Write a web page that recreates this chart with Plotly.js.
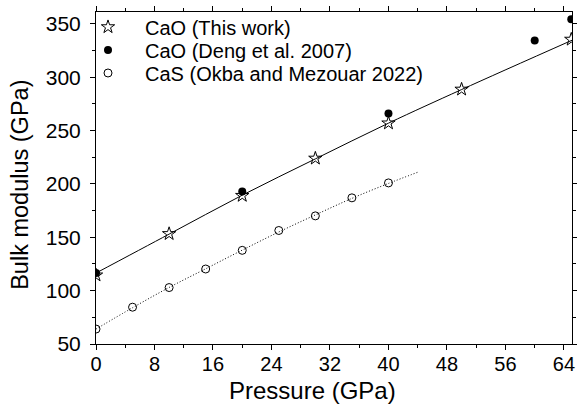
<!DOCTYPE html>
<html>
<head>
<meta charset="utf-8">
<script src="https://cdn.plot.ly/plotly-3.0.1.min.js"></script>
<style>html,body{margin:0;padding:0;background:#fff;}#chart{width:577px;height:405px;}</style>
</head>
<body>
<div id="chart"></div>
<script>
// CaO (This work)
var caoThisX = [0, 10, 20, 30, 40, 50, 65];
var caoThisY = [114.5, 153.3, 189.1, 224, 257, 288.7, 335.5];
// CaO (Deng et al. 2007)
var caoDengX = [0, 20, 40, 60, 65];
var caoDengY = [116.6, 192.9, 266, 334.5, 354.5];
// CaS (Okba and Mezouar 2022)
var casX = [0, 5, 10, 15, 20, 25, 30, 35, 40];
var casY = [64, 84.5, 102.9, 120.3, 137.8, 156.4, 170.1, 187, 201];
// fitted curves
var caoFitX = [0, 10, 20, 30, 40, 50, 65.2];
var caoFitY = [116.5, 153, 189.5, 223.5, 257, 288.5, 335];
var casFitX = [0, 5, 10, 15, 20, 25, 30, 35, 40, 44];
var casFitY = [64, 84, 103, 120.5, 138, 155, 171, 186.5, 200.5, 211];

var xTicks = [0, 8, 16, 24, 32, 40, 48, 56, 64];
var yTicks = [50, 100, 150, 200, 250, 300, 350];

var FONT = 'Liberation Sans, Arial, Helvetica, sans-serif';

var traces = [
  {x: caoFitX, y: caoFitY, mode: 'lines', line: {color: '#000', width: 1, shape: 'spline'}, showlegend: false, hoverinfo: 'skip'},
  {x: casFitX, y: casFitY, mode: 'lines', line: {color: '#000', width: 1, dash: '1px,2px', shape: 'spline'}, showlegend: false, hoverinfo: 'skip'},
  {x: caoDengX, y: caoDengY, mode: 'markers', name: 'CaO (Deng et al. 2007)', legend: 'legend2',
   marker: {symbol: 'circle', size: 8, color: '#000', line: {width: 0}}},
  {x: caoThisX, y: caoThisY, mode: 'markers', name: 'CaO (This work)', legend: 'legend',
   marker: {symbol: 'star-open', size: 10, color: '#000', line: {width: 1, color: '#000'}}},
  {x: casX, y: casY, mode: 'markers', name: 'CaS (Okba and Mezouar 2022)', legend: 'legend3',
   marker: {symbol: 'circle-open', size: 8, color: '#000', line: {width: 1, color: '#000'}}}
];

var axisCommon = {
  showgrid: false, zeroline: false, showline: true, linecolor: '#000', linewidth: 1,
  mirror: 'ticks', ticks: 'outside', ticklen: 5, tickwidth: 1, tickcolor: '#000'
};

function legendAt(yc) {
  return {
    x: -0.0525, y: yc, xanchor: 'left', yanchor: 'middle',
    bgcolor: 'rgba(0,0,0,0)', borderwidth: 0,
    font: {family: FONT, size: 20, color: '#000'},
    itemwidth: 64, tracegroupgap: 0
  };
}

var layout = {
  width: 577, height: 405,
  margin: {l: 96, r: 5, t: 12, b: 61, pad: 0},
  paper_bgcolor: '#fff', plot_bgcolor: '#fff',
  font: {family: FONT, color: '#000'},
  xaxis: Object.assign({}, axisCommon, {
    range: [0, 65.1], tickmode: 'array', tickvals: xTicks, ticktext: xTicks.map(String),
    tickfont: {family: FONT, size: 20, color: '#000'}, ticklabelstandoff: -3,
    minor: {dtick: 4, tick0: 0, ticks: 'outside', ticklen: 3, tickcolor: '#000', showgrid: false}
  }),
  yaxis: Object.assign({}, axisCommon, {
    range: [50, 361.2], tickmode: 'array', tickvals: yTicks, ticktext: yTicks.map(String),
    tickfont: {family: FONT, size: 21, color: '#000'}, ticklabelstandoff: 5,
    minor: {dtick: 25, tick0: 0, ticks: 'outside', ticklen: 3, tickcolor: '#000', showgrid: false}
  }),
  legend: legendAt(0.955),
  legend2: legendAt(0.8855),
  legend3: legendAt(0.8163),
  showlegend: true,
  annotations: [
    {text: 'Pressure (GPa)', xref: 'paper', yref: 'paper', x: 0.4538, y: -0.1837,
     xanchor: 'center', yanchor: 'bottom', showarrow: false, borderpad: 0,
     font: {family: FONT, size: 24, color: '#000'}},
    {text: 'Bulk modulus (GPa)', xref: 'paper', yref: 'paper', x: -0.16, y: 0.479,
     xanchor: 'center', yanchor: 'middle', textangle: -90, showarrow: false,
     font: {family: FONT, size: 23.5, color: '#000'}}
  ]
};

Plotly.newPlot('chart', traces, layout, {displayModeBar: false, staticPlot: true});
</script>
</body>
</html>
